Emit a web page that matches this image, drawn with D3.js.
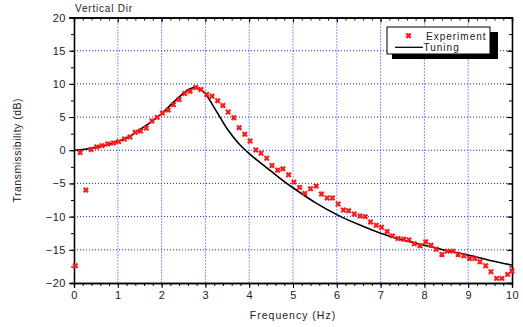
<!DOCTYPE html>
<html>
<head>
<meta charset="utf-8">
<script src="https://cdn.jsdelivr.net/npm/d3@7"></script>
<style>
  body { margin: 0; background: #fff; }
  text { font-family: "Liberation Sans", Arial, sans-serif; fill: #222; }
</style>
</head>
<body>
<div id="chart"></div>
<script>
var svgWidth = 523;
var svgHeight = 327;

var margin = { top: 17.5, right: 11, bottom: 44, left: 74 };
var width = svgWidth - margin.left - margin.right;
var height = svgHeight - margin.top - margin.bottom;

// measured points (red x)
var expFreq = [0.03, 0.14, 0.27, 0.39, 0.52, 0.64, 0.77, 0.9, 1.02, 1.15, 1.28, 1.4, 1.52, 1.65,
  1.78, 1.9, 2.02, 2.15, 2.27, 2.4, 2.53, 2.65, 2.78, 2.9, 3.03, 3.15, 3.28, 3.4, 3.52, 3.65,
  3.77, 3.9, 4.02, 4.15, 4.27, 4.4, 4.52, 4.65, 4.77, 4.9, 5.02, 5.15, 5.27, 5.4, 5.53, 5.65,
  5.78, 5.9, 6.03, 6.15, 6.27, 6.4, 6.53, 6.65, 6.77, 6.9, 7.02, 7.15, 7.27, 7.4, 7.53, 7.65,
  7.77, 7.9, 8.03, 8.15, 8.27, 8.4, 8.52, 8.65, 8.77, 8.9, 9.03, 9.15, 9.27, 9.4, 9.52, 9.65,
  9.77, 9.9, 10.0];
var expDb = [-17.4, -0.35, -6.0, 0.1, 0.5, 0.7, 0.95, 1.1, 1.3, 1.7, 2.0, 2.7, 2.9, 3.35,
  4.4, 4.95, 5.6, 6.05, 6.85, 7.65, 8.55, 8.9, 9.45, 9.15, 8.4, 8.15, 7.45, 6.75, 5.75, 4.9,
  3.4, 2.4, 1.4, 0.05, -0.45, -1.2, -2.3, -3.0, -2.8, -3.7, -4.8, -5.6, -6.5, -5.8, -5.4, -6.6,
  -7.2, -7.2, -8.1, -9.0, -9.1, -9.6, -9.9, -10.0, -10.8, -11.3, -11.6, -12.25, -12.9, -13.3, -13.4, -13.5,
  -14.1, -14.4, -13.8, -14.3, -14.9, -15.7, -15.2, -15.2, -15.7, -15.9, -16.3, -16.3, -16.8, -17.4, -18.3, -19.3,
  -19.3, -18.7, -18.2];

// fitted model curve (black line)
var tuneFreq = [0, 0.25, 0.5, 0.75, 1.0, 1.25, 1.5, 1.75, 2.0, 2.25, 2.5, 2.65, 2.78, 2.9, 3.0, 3.25,
  3.5, 3.75, 4.0, 4.25, 4.5, 4.75, 5.0, 5.5, 6.0, 6.5, 7.0, 7.5, 8.0, 8.5, 9.0, 9.5, 10.0];
var tuneDb = [0, 0.15, 0.45, 0.8, 1.3, 2.0, 3.1, 4.2, 5.5, 7.1, 8.6, 9.25, 9.45, 9.1, 8.5, 5.9,
  3.2, 1.1, -0.5, -1.85, -3.15, -4.45, -5.65, -7.85, -9.7, -11.2, -12.5, -13.5, -14.3, -15.1, -15.8, -16.6, -17.3];

var xTicks = [0, 1, 2, 3, 4, 5, 6, 7, 8, 9, 10];
var yTicks = [-20, -15, -10, -5, 0, 5, 10, 15, 20];

var svg = d3.select("#chart")
  .append("svg")
  .attr("width", svgWidth)
  .attr("height", svgHeight);

var chartGroup = svg.append("g")
  .attr("transform", `translate(${margin.left}, ${margin.top})`);

var xLinearScale = d3.scaleLinear().domain([0, 10]).range([0, width]);
var yLinearScale = d3.scaleLinear().domain([-20, 20]).range([height, 0]);

// grid
chartGroup.append("g")
  .selectAll("line")
  .data(xTicks.slice(1, -1))
  .enter()
  .append("line")
  .attr("x1", d => xLinearScale(d)).attr("x2", d => xLinearScale(d))
  .attr("y1", 0).attr("y2", height)
  .attr("stroke", "#2020ff").attr("stroke-dasharray", "1,2");

chartGroup.append("g")
  .selectAll("line")
  .data(yTicks.slice(1, -1))
  .enter()
  .append("line")
  .attr("y1", d => yLinearScale(d)).attr("y2", d => yLinearScale(d))
  .attr("x1", 0).attr("x2", width)
  .attr("stroke", "#2020ff").attr("stroke-dasharray", "1,2");

// minor tick helper
function minorTicks(axisGen, values, size) {
  return axisGen.tickValues(values).tickSize(size).tickFormat("");
}
var xMinor = d3.range(0, 10.01, 0.2);
var yMinor = d3.range(-20, 20.01, 2.5);

// bottom axis
chartGroup.append("g")
  .attr("transform", `translate(0, ${height})`)
  .call(minorTicks(d3.axisBottom(xLinearScale), xMinor, 3));
chartGroup.append("g")
  .attr("class", "xaxis")
  .attr("transform", `translate(0, ${height})`)
  .call(d3.axisBottom(xLinearScale).tickValues(xTicks).tickSize(5).tickPadding(3));

// left axis
chartGroup.append("g")
  .call(minorTicks(d3.axisLeft(yLinearScale), yMinor, 3));
chartGroup.append("g")
  .attr("class", "yaxis")
  .call(d3.axisLeft(yLinearScale).tickValues(yTicks).tickSize(5).tickPadding(3));

// top and right axes, ticks inward
chartGroup.append("g")
  .call(minorTicks(d3.axisBottom(xLinearScale), xMinor, 3));
chartGroup.append("g")
  .call(minorTicks(d3.axisBottom(xLinearScale), xTicks, 5));
chartGroup.append("g")
  .attr("transform", `translate(${width}, 0)`)
  .call(minorTicks(d3.axisLeft(yLinearScale), yMinor, 3));
chartGroup.append("g")
  .attr("transform", `translate(${width}, 0)`)
  .call(minorTicks(d3.axisLeft(yLinearScale), yTicks, 5));

chartGroup.selectAll(".domain").attr("stroke", "#000").attr("stroke-width", 1.3);
chartGroup.selectAll(".tick line").attr("stroke", "#000");
chartGroup.selectAll(".xaxis text, .yaxis text")
  .style("font-size", "11px")
  .style("letter-spacing", "0.5px")
  .attr("fill", "#222");

// curve
var lineGen = d3.line()
  .x(d => xLinearScale(d[0]))
  .y(d => yLinearScale(d[1]))
  .curve(d3.curveCatmullRom);

chartGroup.append("path")
  .datum(tuneFreq.map((f, i) => [f, tuneDb[i]]))
  .attr("d", lineGen)
  .attr("fill", "none")
  .attr("stroke", "#000")
  .attr("stroke-width", 1.6);

// experiment markers
var crossPath = "M-2.2,-2.2L2.2,2.2M-2.2,2.2L2.2,-2.2";
chartGroup.append("g")
  .selectAll("path")
  .data(expFreq.map((f, i) => [f, expDb[i]]))
  .enter()
  .append("path")
  .attr("transform", d => `translate(${xLinearScale(d[0])}, ${yLinearScale(d[1])})`)
  .attr("d", crossPath)
  .attr("stroke", "#ff1a1a")
  .attr("stroke-width", 2.2);

// legend
var legend = svg.append("g").attr("transform", "translate(387, 27)");
legend.append("rect")
  .attr("x", 5).attr("y", 5).attr("width", 106).attr("height", 27)
  .attr("fill", "#000");
legend.append("rect")
  .attr("x", 0).attr("y", 0).attr("width", 103).attr("height", 27)
  .attr("fill", "#fff").attr("stroke", "#000").attr("stroke-width", 1);
legend.append("path")
  .attr("transform", "translate(21.5, 8.7)")
  .attr("d", crossPath)
  .attr("stroke", "#ff1a1a")
  .attr("stroke-width", 2.2);
legend.append("text")
  .attr("x", 39).attr("y", 12.5)
  .style("font-size", "10px").style("letter-spacing", "1px")
  .text("Experiment");
legend.append("line")
  .attr("x1", 8).attr("x2", 36).attr("y1", 20.3).attr("y2", 20.3)
  .attr("stroke", "#000").attr("stroke-width", 1.3);
legend.append("text")
  .attr("x", 36.5).attr("y", 24)
  .style("font-size", "10px").style("letter-spacing", "1px")
  .text("Tuning");

// titles
svg.append("text")
  .attr("x", 75).attr("y", 12)
  .style("font-size", "10px").style("letter-spacing", "0.8px")
  .text("Vertical Dir");

svg.append("text")
  .attr("transform", `translate(${margin.left + width / 2}, 319)`)
  .attr("text-anchor", "middle")
  .style("font-size", "10.5px").style("letter-spacing", "1px")
  .text("Frequency (Hz)");

svg.append("text")
  .attr("transform", `translate(21, ${margin.top + height / 2}) rotate(-90)`)
  .attr("text-anchor", "middle")
  .style("font-size", "10.5px").style("letter-spacing", "0.5px")
  .text("Transmissibility (dB)");
</script>
</body>
</html>
